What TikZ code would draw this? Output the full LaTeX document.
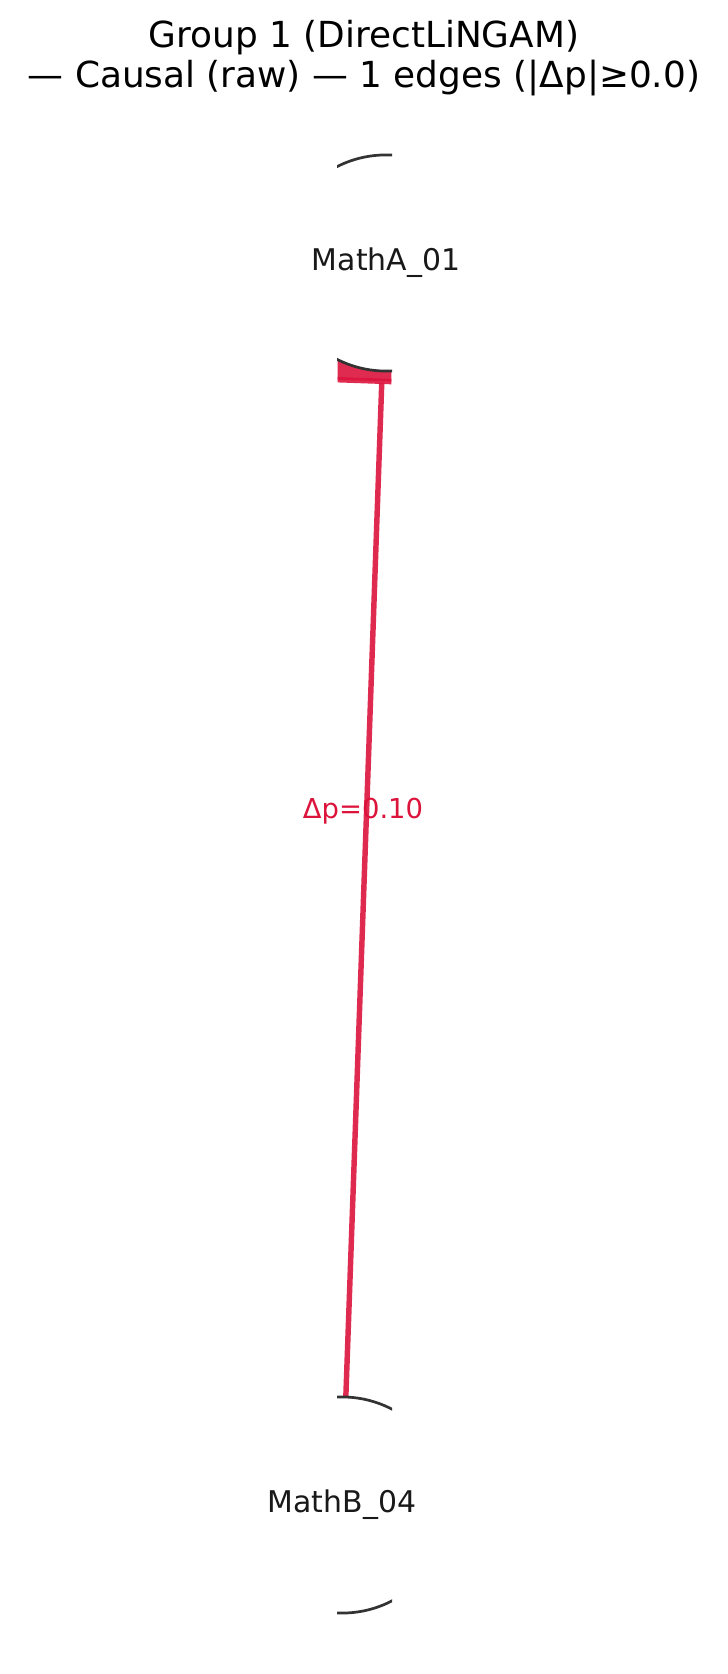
\documentclass[tikz,border=0pt]{standalone}
\usepackage{fontspec}
\setmainfont{DejaVu Sans}
\usepackage{xcolor}
\usepackage{tikz}
\usetikzlibrary{arrows.meta,backgrounds}
\definecolor{CRed}{RGB}{220,20,60}
\definecolor{CGray}{RGB}{51,51,51}

\begin{document}
\begin{tikzpicture}[
    x=0.01cm, y=-0.01cm,
    title/.style={
      align=center,
      font=\fontsize{10.2}{11.4}\selectfont
    },
    var/.style={
      circle,
      draw=CGray,
      fill=white,
      line width=0.77pt,
      minimum size=2.16cm,
      inner sep=0pt,
      outer sep=0pt
    },
    vlabel/.style={
      font=\fontsize{8.5}{10}\selectfont,
      text=black!90
    },
    elabel/.style={
      font=\fontsize{7.8}{9}\selectfont,
      text=CRed
    },
    edge/.style={
      draw=CRed,
      draw opacity=0.9,
      fill=CRed,
      fill opacity=0.9,
      line width=1.55pt,
      shorten >=-11.4pt,
      -{Triangle[length=15.1pt,width=57pt]}
    }
  ]
    \useasboundingbox (0,0) rectangle (728,1674);

    \node[title] (title) at (364,58) {Group 1 (DirectLiNGAM)\\— Causal (raw) — 1 edges (|Δp|≥0.0)};

    \begin{scope}
      \clip (337,0) rectangle (392,1674);
      \node[var] (mathA) at (386,263) {};
      \node[var] (mathB) at (342,1505) {};
    \end{scope}

    \node[vlabel] (mathAtxt) at (mathA) {MathA\_01};
    \node[vlabel] (mathBtxt) at (mathB) {MathB\_04};

    \begin{scope}[on background layer]
      \node[elabel] (dp) at (363,811) {Δp=0.10};
      \begin{scope}
        \clip (337.6,0) rectangle (391.4,1674);
        \draw[edge] (mathB) -- (mathA);
      \end{scope}
    \end{scope}
  \end{tikzpicture}
\end{document}
